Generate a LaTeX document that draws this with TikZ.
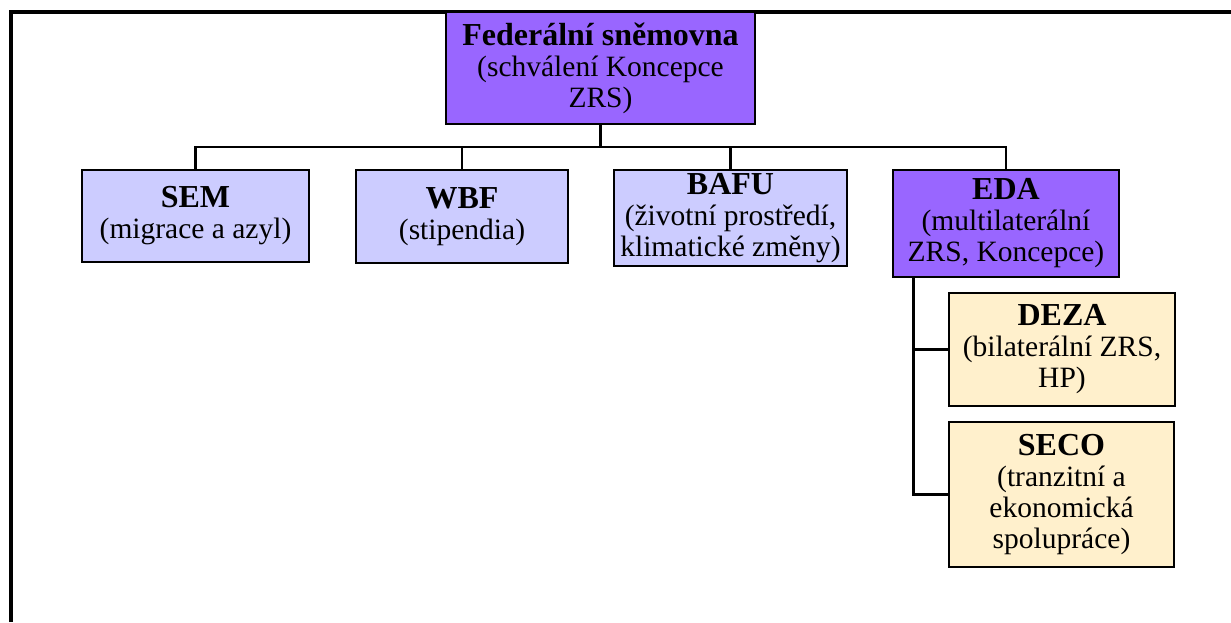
\documentclass[tikz,border=0pt]{standalone}
\usepackage{fontspec}
\setmainfont{Liberation Serif}
\definecolor{purp}{HTML}{9966FF}
\definecolor{lilac}{HTML}{CCCCFF}
\definecolor{tan}{HTML}{FFF0CC}
\newcommand{\hd}[1]{{\fontsize{32}{31}\selectfont\bfseries #1}}
\begin{document}
\begin{tikzpicture}[x=1pt,y=-1pt,
  box/.style={draw=black,line width=2.8pt,align=center,inner sep=0pt,
    font=\fontsize{29.5}{31}\selectfont},
  lnk/.style={draw=black,line width=2.6pt},
  frm/.style={draw=black,line width=3.2pt}]
\useasboundingbox (0,0) rectangle (1231,622);
\draw[frm] (11,622) -- (11,12) -- (1231,12);
\node[box,fill=purp,minimum width=309pt,minimum height=112pt] (fed) at (600.5,68)
  {\hd{Federální sněmovna}\\(schválení Koncepce\\ZRS)};
\node[box,fill=lilac,minimum width=227pt,minimum height=92pt] (sem) at (195.5,216)
  {\hd{SEM}\\(migrace a azyl)};
\node[box,fill=lilac,minimum width=212pt,minimum height=93pt] (wbf) at (462,216.5)
  {\hd{WBF}\\(stipendia)};
\node[box,fill=lilac,minimum width=233pt,minimum height=96pt] (bafu) at (730.5,218)
  {\raisebox{-3pt}{\hd{BAFU}}\\\raisebox{-3pt}{(životní prostředí,}\\\raisebox{-3pt}{klimatické změny)}};
\node[box,fill=purp,minimum width=226pt,minimum height=107pt] (eda) at (1006,223.5)
  {\hd{EDA}\\(multilaterální\\ZRS, Koncepce)};
\node[box,fill=tan,minimum width=226pt,minimum height=113pt] (deza) at (1062,349.5)
  {\hd{DEZA}\\(bilaterální ZRS,\\HP)};
\node[box,fill=tan,minimum width=225pt,minimum height=145pt] (seco) at (1061.5,494.5)
  {\hd{SECO}\\(tranzitní a\\ekonomická\\spolupráce)};
\coordinate (bar) at (0,147);
\coordinate (edal) at ([xshift=22pt]eda.south west);
\draw[lnk] (fed.south) -- (fed.south |- bar);
\draw[lnk] (sem.north) -- (sem.north |- bar) -- (eda.north |- bar) -- (eda.north);
\draw[lnk] (wbf.north) -- (wbf.north |- bar);
\draw[lnk] (bafu.north) -- (bafu.north |- bar);
\draw[lnk] (edal) |- (deza.west);
\draw[lnk] (edal) |- (seco.west);
\end{tikzpicture}
\end{document}
